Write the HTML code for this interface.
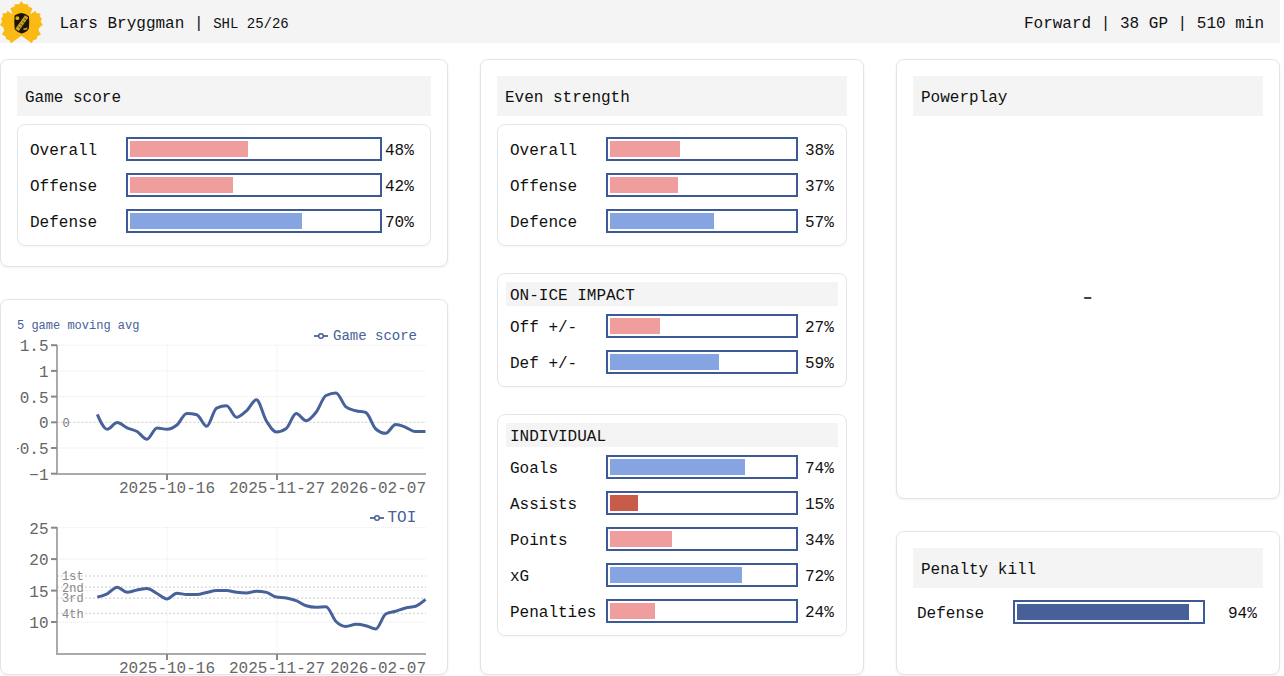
<!DOCTYPE html>
<html><head><meta charset="utf-8"><title>Lars Bryggman</title><style>
*{box-sizing:border-box}
html,body{margin:0;padding:0;background:#fff}
body{width:1284px;height:676px;overflow:hidden;position:relative;font-family:"Liberation Mono",monospace;font-size:16px;color:#111}
.hdr{position:absolute;left:0;top:0;width:1280px;height:43px;background:#f4f4f5}
.card{position:absolute;background:#fff;border:1px solid #e4e4e7;border-radius:8px;box-shadow:0 1px 3px rgba(0,0,0,.06)}
.ttl{position:absolute;background:#f4f4f5;height:40px;line-height:44px;padding-left:8px;white-space:nowrap}
.box{position:absolute;border:1px solid #e6e6e9;border-radius:8px;box-shadow:0 1px 2px rgba(0,0,0,.04)}
.sub{position:absolute;background:#f4f4f5;height:24px;line-height:29px;padding-left:4px;white-space:nowrap}
.lbl{position:absolute;height:24px;line-height:28px;white-space:nowrap}
.bar{position:absolute;border:2px solid #3d5996;padding:2px;box-sizing:content-box;height:16px}
.bar i{display:block;height:16px}
.t{position:absolute;white-space:nowrap}
</style></head>
<body>
<div class="hdr"></div>
<svg width="45" height="45" viewBox="0 0 45 45" style="position:absolute;left:0;top:0">
<path fill="#fbb913" d="M21.4,1.1 L19.6,3.8 L17.6,4.2 L14.4,4.2 L14.9,6.3 L10.4,8.2 L12.6,14.6 L7.5,10.7 L6.6,13.0 L2.0,13.7 L3.3,16.0 L0.9,19.0 L2.2,21.3 L0.0,25.0 L3.0,27.0 L4.4,29.9 L1.9,34.4 L5.7,36.6 L5.9,39.0 L9.6,40.2 L10.9,43.2 L21.4,35.8 L31.9,43.2 L33.2,40.2 L36.9,39.0 L37.1,36.6 L40.9,34.4 L38.4,29.9 L39.8,27.0 L42.8,25.0 L40.6,21.3 L41.9,19.0 L39.5,16.0 L40.8,13.7 L36.2,13.0 L35.3,10.7 L30.2,14.6 L32.4,8.2 L27.9,6.3 L28.4,4.2 L25.2,4.2 L23.2,3.8 Z"/>
<path fill="#1c1408" d="M14.6,15.6 Q18,13.2 21.5,13 Q25.5,13.4 28.9,16.3 Q29.6,22 28.9,28.5 Q27.5,31.6 24.5,32.6 Q22.5,33.6 21.5,33.6 Q17.5,32.6 14.7,29.3 Q13.9,22 14.6,15.6 Z"/>
<circle cx="17.4" cy="18.2" r="1.9" fill="#d8b21c"/>
<path fill="#c9a11e" d="M25,15.2 L28.3,17.6 L18.7,31.2 L15.4,28.8 Z"/>
<g stroke="#3a2a08" stroke-width="0.8"><line x1="24.2" y1="18.6" x2="26.4" y2="20.2"/><line x1="22.3" y1="21.3" x2="24.5" y2="22.9"/><line x1="20.4" y1="24" x2="22.6" y2="25.6"/><line x1="18.5" y1="26.7" x2="20.7" y2="28.3"/></g>
<path fill="#b8951c" d="M23.2,28.6 L27.6,27.6 L27.2,29.4 L23.6,30.2 Z"/>
</svg>
<div class="t" style="left:59.5px;top:14px;line-height:20px">Lars Bryggman | <span style="font-size:14px">SHL 25/26</span></div>
<div class="t" style="right:20px;top:14px;line-height:20px">Forward | 38 GP | 510 min</div>

<div class="card" style="left:0;top:59px;width:448px;height:208px"></div>
<div class="ttl" style="left:17px;top:76px;width:414px">Game score</div>
<div class="box" style="left:17px;top:124px;width:414px;height:122px"></div>
<div class="lbl" style="left:30px;top:137px">Overall</div>
<div class="bar" style="left:126px;top:137px;width:248px"><i style="width:118px;background:#f09d9d"></i></div>
<div class="lbl" style="left:385px;top:137px">48%</div>
<div class="lbl" style="left:30px;top:173px">Offense</div>
<div class="bar" style="left:126px;top:173px;width:248px"><i style="width:103px;background:#f09d9d"></i></div>
<div class="lbl" style="left:385px;top:173px">42%</div>
<div class="lbl" style="left:30px;top:209px">Defense</div>
<div class="bar" style="left:126px;top:209px;width:248px"><i style="width:172px;background:#86a3e2"></i></div>
<div class="lbl" style="left:385px;top:209px">70%</div>

<div class="card" style="left:0;top:299px;width:448px;height:376px"></div>
<svg width="448" height="376" viewBox="0 0 448 376" style="position:absolute;left:0;top:299px">
<defs><clipPath id="c1"><rect x="17" y="0" width="420" height="376"/></clipPath></defs>
<g clip-path="url(#c1)" font-family="Liberation Mono, monospace">
<line x1="57" y1="46.19999999999999" x2="426" y2="46.19999999999999" stroke="#e8e8e8" stroke-width="1" stroke-dasharray="1,1"/>
<line x1="57" y1="71.89999999999998" x2="426" y2="71.89999999999998" stroke="#e8e8e8" stroke-width="1" stroke-dasharray="1,1"/>
<line x1="57" y1="97.60000000000002" x2="426" y2="97.60000000000002" stroke="#e8e8e8" stroke-width="1" stroke-dasharray="1,1"/>
<line x1="57" y1="149.0" x2="426" y2="149.0" stroke="#e8e8e8" stroke-width="1" stroke-dasharray="1,1"/>
<line x1="167" y1="46" x2="167" y2="175" stroke="#ececec" stroke-width="1" stroke-dasharray="1,1"/>
<line x1="277" y1="46" x2="277" y2="175" stroke="#ececec" stroke-width="1" stroke-dasharray="1,1"/>
<line x1="57" y1="123.30000000000001" x2="426" y2="123.30000000000001" stroke="#d4d4d4" stroke-width="1" stroke-dasharray="2.5,1.5"/>
<text x="62.5" y="127.5" font-size="12" fill="#777">0</text>
<g stroke="#aaaaaa" stroke-width="2" fill="none"><line x1="57" y1="46" x2="57" y2="176"/><line x1="56" y1="175" x2="426" y2="175"/></g>
<g stroke="#888" stroke-width="2"><line x1="51" y1="46.19999999999999" x2="57" y2="46.19999999999999"/><line x1="51" y1="71.89999999999998" x2="57" y2="71.89999999999998"/><line x1="51" y1="97.60000000000002" x2="57" y2="97.60000000000002"/><line x1="51" y1="123.30000000000001" x2="57" y2="123.30000000000001"/><line x1="51" y1="149.0" x2="57" y2="149.0"/><line x1="51" y1="174.7" x2="57" y2="174.7"/><line x1="167" y1="175" x2="167" y2="181"/><line x1="277" y1="175" x2="277" y2="181"/></g>
<g font-size="16" fill="#666"><text x="48.5" y="52.19999999999999" text-anchor="end">1.5</text><text x="48.5" y="77.89999999999998" text-anchor="end">1</text><text x="48.5" y="103.60000000000002" text-anchor="end">0.5</text><text x="48.5" y="129.3" text-anchor="end">0</text><text x="48.5" y="155.0" text-anchor="end">−0.5</text><text x="48.5" y="180.7" text-anchor="end">−1</text>
<text x="167" y="194" text-anchor="middle">2025-10-16</text><text x="277" y="194" text-anchor="middle">2025-11-27</text><text x="426" y="194" text-anchor="end">2026-02-07</text></g>
<path d="M97.3,115.3C100.6,122.8,103.9,130.3,107.2,130.3C110.6,130.3,113.9,123.6,117.2,123.6C120.5,123.6,123.8,127.4,127.1,128.9C130.5,130.4,133.8,130.6,137.1,132.5C140.4,134.4,143.7,140.3,147.0,140.3C150.3,140.3,153.7,128.9,157.0,128.9C160.3,128.9,163.6,130.3,166.9,130.3C170.2,130.3,173.5,128.7,176.9,126.0C180.2,123.3,183.5,114.4,186.8,114.4C190.1,114.4,193.4,114.8,196.8,115.7C200.1,116.6,203.4,127.3,206.7,127.3C210.0,127.3,213.3,110.6,216.6,109.1C220.0,107.6,223.3,106.8,226.6,106.8C229.9,106.8,233.2,118.3,236.5,118.3C239.9,118.3,243.2,114.7,246.5,111.8C249.8,108.9,253.1,100.8,256.4,100.8C259.7,100.8,263.1,116.7,266.4,122.0C269.7,127.3,273.0,132.9,276.3,132.9C279.6,132.9,282.9,131.7,286.3,129.4C289.6,127.1,292.9,114.6,296.2,114.6C299.5,114.6,302.8,121.7,306.2,121.7C309.5,121.7,312.8,117.4,316.1,113.2C319.4,109.0,322.7,98.2,326.0,96.5C329.4,94.8,332.7,93.9,336.0,93.9C339.3,93.9,342.6,105.1,345.9,107.8C349.3,110.5,352.6,110.9,355.9,111.8C359.2,112.8,362.5,112.4,365.8,113.5C369.1,114.6,372.5,127.1,375.8,130.0C379.1,132.9,382.4,134.3,385.7,134.3C389.0,134.3,392.3,125.6,395.7,125.6C399.0,125.6,402.3,127.1,405.6,128.3C408.9,129.5,412.2,132.6,415.6,132.6C418.9,132.6,422.2,132.6,425.5,132.5" fill="none" stroke="#47619b" stroke-width="3" stroke-linejoin="round" stroke-linecap="butt"/>
<g stroke="#47619b"><line x1="314" y1="37" x2="328" y2="37" stroke-width="1.8"/><circle cx="321" cy="37" r="2.3" stroke-width="1.5" fill="#fff"/></g>
<text x="333" y="41" font-size="14" fill="#47619b">Game score</text>
<text x="17" y="29.69999999999999" font-size="12" fill="#47619b">5 game moving avg</text>
<line x1="57" y1="228.70000000000005" x2="426" y2="228.70000000000005" stroke="#e8e8e8" stroke-width="1" stroke-dasharray="1,1"/>
<line x1="57" y1="260.1" x2="426" y2="260.1" stroke="#e8e8e8" stroke-width="1" stroke-dasharray="1,1"/>
<line x1="57" y1="291.6" x2="426" y2="291.6" stroke="#e8e8e8" stroke-width="1" stroke-dasharray="1,1"/>
<line x1="57" y1="323.0" x2="426" y2="323.0" stroke="#e8e8e8" stroke-width="1" stroke-dasharray="1,1"/>
<line x1="167" y1="228" x2="167" y2="355" stroke="#ececec" stroke-width="1" stroke-dasharray="1,1"/>
<line x1="277" y1="228" x2="277" y2="355" stroke="#ececec" stroke-width="1" stroke-dasharray="1,1"/>
<line x1="57" y1="277" x2="426" y2="277" stroke="#dcdcdc" stroke-width="1.5" stroke-dasharray="2,2"/>
<line x1="57" y1="288.29999999999995" x2="426" y2="288.29999999999995" stroke="#dcdcdc" stroke-width="1.5" stroke-dasharray="2,2"/>
<line x1="57" y1="299.20000000000005" x2="426" y2="299.20000000000005" stroke="#dcdcdc" stroke-width="1.5" stroke-dasharray="2,2"/>
<line x1="57" y1="314.4" x2="426" y2="314.4" stroke="#dcdcdc" stroke-width="1.5" stroke-dasharray="2,2"/>
<g font-size="12" fill="#888"><text x="62" y="281">1st</text><text x="62" y="292.5">2nd</text><text x="62" y="303">3rd</text><text x="62" y="318.5">4th</text></g>
<g stroke="#aaaaaa" stroke-width="2" fill="none"><line x1="57" y1="228" x2="57" y2="356"/><line x1="56" y1="355" x2="426" y2="355"/></g>
<g stroke="#888" stroke-width="2"><line x1="51" y1="228.70000000000005" x2="57" y2="228.70000000000005"/><line x1="51" y1="260.1" x2="57" y2="260.1"/><line x1="51" y1="291.6" x2="57" y2="291.6"/><line x1="51" y1="323.0" x2="57" y2="323.0"/><line x1="167" y1="355" x2="167" y2="361"/><line x1="277" y1="355" x2="277" y2="361"/></g>
<g font-size="16" fill="#666"><text x="48.5" y="234.70000000000005" text-anchor="end">25</text><text x="48.5" y="266.1" text-anchor="end">20</text><text x="48.5" y="297.6" text-anchor="end">15</text><text x="48.5" y="329.0" text-anchor="end">10</text>
<text x="167" y="374" text-anchor="middle">2025-10-16</text><text x="277" y="374" text-anchor="middle">2025-11-27</text><text x="426" y="374" text-anchor="end">2026-02-07</text></g>
<path d="M97.3,298.1C100.6,297.3,103.9,296.4,107.2,294.8C110.6,293.1,113.9,288.2,117.2,288.2C120.5,288.2,123.8,293.3,127.1,293.3C130.5,293.3,133.8,291.6,137.1,291.0C140.4,290.4,143.7,289.5,147.0,289.5C150.3,289.5,153.7,292.8,157.0,294.5C160.3,296.2,163.6,299.9,166.9,299.9C170.2,299.9,173.5,294.2,176.9,294.2C180.2,294.2,183.5,295.5,186.8,295.5C190.1,295.5,193.4,295.5,196.8,295.5C200.1,295.5,203.4,294.2,206.7,293.5C210.0,292.8,213.3,291.5,216.6,291.5C220.0,291.5,223.3,291.5,226.6,291.5C229.9,291.5,233.2,292.9,236.5,293.3C239.9,293.7,243.2,294.0,246.5,294.0C249.8,294.0,253.1,292.3,256.4,292.3C259.7,292.3,263.1,292.7,266.4,293.4C269.7,294.1,273.0,297.5,276.3,298.1C279.6,298.7,282.9,298.4,286.3,299.0C289.6,299.6,292.9,300.4,296.2,301.7C299.5,303.0,302.8,305.8,306.2,306.8C309.5,307.8,312.8,308.3,316.1,308.3C319.4,308.3,322.7,307.7,326.0,307.7C329.4,307.7,332.7,319.2,336.0,322.5C339.3,325.8,342.6,327.4,345.9,327.4C349.3,327.4,352.6,325.3,355.9,325.3C359.2,325.3,362.5,325.9,365.8,326.7C369.1,327.5,372.5,329.9,375.8,329.9C379.1,329.9,382.4,316.9,385.7,315.0C389.0,313.1,392.3,313.2,395.7,312.2C399.0,311.2,402.3,309.8,405.6,309.0C408.9,308.2,412.2,308.4,415.6,307.3C418.9,306.2,422.2,303.3,425.5,300.5" fill="none" stroke="#47619b" stroke-width="3" stroke-linejoin="round"/>
<g stroke="#47619b"><line x1="370" y1="219" x2="384" y2="219" stroke-width="1.8"/><circle cx="377" cy="219" r="2.3" stroke-width="1.5" fill="#fff"/></g>
<text x="387.5" y="223" font-size="16" fill="#47619b">TOI</text>
</g></svg>

<div class="card" style="left:480px;top:59px;width:384px;height:616px"></div>
<div class="ttl" style="left:497px;top:76px;width:350px">Even strength</div>
<div class="box" style="left:497px;top:124px;width:350px;height:122px"></div>
<div class="lbl" style="left:510px;top:137px">Overall</div>
<div class="bar" style="left:606px;top:137px;width:184px"><i style="width:70px;background:#f09d9d"></i></div>
<div class="lbl" style="left:805px;top:137px">38%</div>
<div class="lbl" style="left:510px;top:173px">Offense</div>
<div class="bar" style="left:606px;top:173px;width:184px"><i style="width:68px;background:#f09d9d"></i></div>
<div class="lbl" style="left:805px;top:173px">37%</div>
<div class="lbl" style="left:510px;top:209px">Defence</div>
<div class="bar" style="left:606px;top:209px;width:184px"><i style="width:104px;background:#86a3e2"></i></div>
<div class="lbl" style="left:805px;top:209px">57%</div>
<div class="box" style="left:497px;top:273px;width:350px;height:114px"></div>
<div class="sub" style="left:506px;top:282px;width:332px">ON-ICE IMPACT</div>
<div class="lbl" style="left:510px;top:314px">Off +/-</div>
<div class="bar" style="left:606px;top:314px;width:184px"><i style="width:50px;background:#f09d9d"></i></div>
<div class="lbl" style="left:805px;top:314px">27%</div>
<div class="lbl" style="left:510px;top:350px">Def +/-</div>
<div class="bar" style="left:606px;top:350px;width:184px"><i style="width:109px;background:#86a3e2"></i></div>
<div class="lbl" style="left:805px;top:350px">59%</div>
<div class="box" style="left:497px;top:414px;width:350px;height:222px"></div>
<div class="sub" style="left:506px;top:423px;width:332px">INDIVIDUAL</div>
<div class="lbl" style="left:510px;top:455px">Goals</div>
<div class="bar" style="left:606px;top:455px;width:184px"><i style="width:135px;background:#86a3e2"></i></div>
<div class="lbl" style="left:805px;top:455px">74%</div>
<div class="lbl" style="left:510px;top:491px">Assists</div>
<div class="bar" style="left:606px;top:491px;width:184px"><i style="width:28px;background:#c95c48"></i></div>
<div class="lbl" style="left:805px;top:491px">15%</div>
<div class="lbl" style="left:510px;top:527px">Points</div>
<div class="bar" style="left:606px;top:527px;width:184px"><i style="width:62px;background:#f09d9d"></i></div>
<div class="lbl" style="left:805px;top:527px">34%</div>
<div class="lbl" style="left:510px;top:563px">xG</div>
<div class="bar" style="left:606px;top:563px;width:184px"><i style="width:132px;background:#86a3e2"></i></div>
<div class="lbl" style="left:805px;top:563px">72%</div>
<div class="lbl" style="left:510px;top:599px">Penalties</div>
<div class="bar" style="left:606px;top:599px;width:184px"><i style="width:45px;background:#f09d9d"></i></div>
<div class="lbl" style="left:805px;top:599px">24%</div>

<div class="card" style="left:896px;top:59px;width:384px;height:440px"></div>
<div class="ttl" style="left:913px;top:76px;width:350px">Powerplay</div>
<div class="t" style="left:1082.7px;top:288.5px;line-height:20px;color:#444;transform:scale(1.6);transform-origin:4.8px 10px">-</div>

<div class="card" style="left:896px;top:531px;width:384px;height:144px"></div>
<div class="ttl" style="left:913px;top:548px;width:350px">Penalty kill</div>
<div class="lbl" style="left:917px;top:600px">Defense</div>
<div class="bar" style="left:1013px;top:600px;width:184px"><i style="width:172px;background:#48609a"></i></div>
<div class="lbl" style="left:1228px;top:600px">94%</div>
</body></html>
